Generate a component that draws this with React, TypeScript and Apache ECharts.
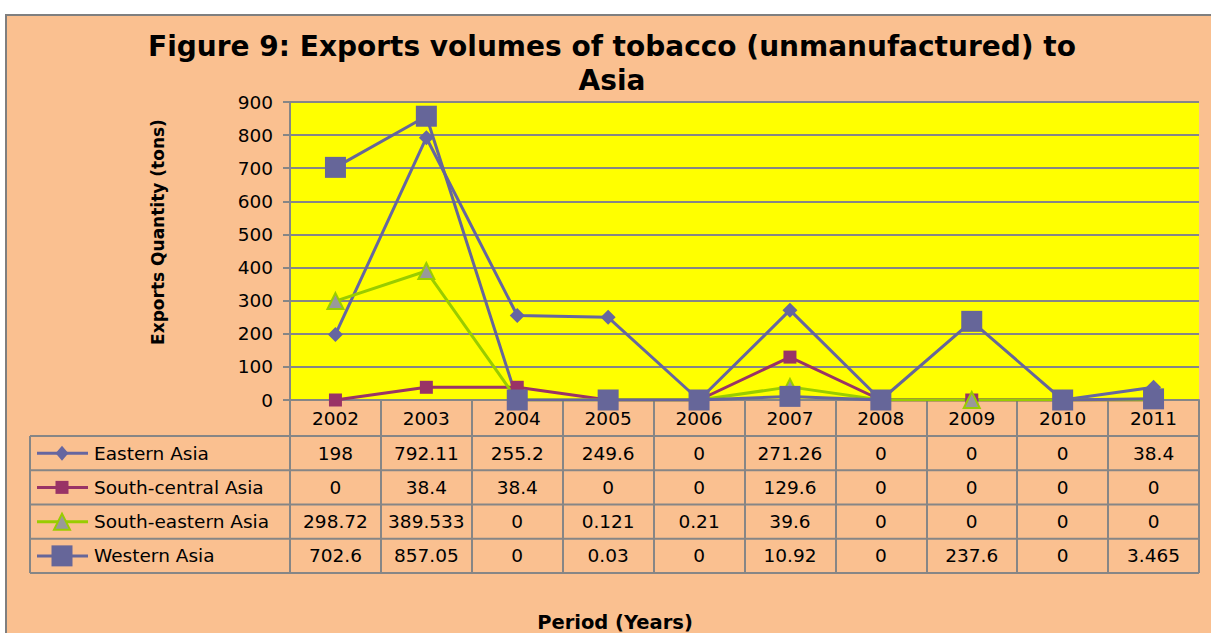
import React, { useEffect, useRef } from "react";
import * as echarts from "echarts";

const years = ["2002", "2003", "2004", "2005", "2006", "2007", "2008", "2009", "2010", "2011"];
const seriesNames = ["Eastern Asia", "South-central Asia", "South-eastern Asia", "Western Asia"];
const easternAsia = [198, 792.11, 255.2, 249.6, 0, 271.26, 0, 0, 0, 38.4];
const southCentralAsia = [0, 38.4, 38.4, 0, 0, 129.6, 0, 0, 0, 0];
const southEasternAsia = [298.72, 389.533, 0, 0.121, 0.21, 39.6, 0, 0, 0, 0];
const westernAsia = [702.6, 857.05, 0, 0.03, 0, 10.92, 0, 237.6, 0, 3.465];
const tableLabels = [
  ["198", "792.11", "255.2", "249.6", "0", "271.26", "0", "0", "0", "38.4"],
  ["0", "38.4", "38.4", "0", "0", "129.6", "0", "0", "0", "0"],
  ["298.72", "389.533", "0", "0.121", "0.21", "39.6", "0", "0", "0", "0"],
  ["702.6", "857.05", "0", "0.03", "0", "10.92", "0", "237.6", "0", "3.465"],
];

const PEACH = "#FAC090";
const GRID = "#868686";
const FONT = "DejaVu Sans";
const FS = 18.5;

const styles = [
  { color: "#6666A0", symbol: "diamond", size: 15, fill: "#6666A0", border: "#6666A0" },
  { color: "#993366", symbol: "rect", size: 13, fill: "#993366", border: "#993366" },
  { color: "#99CC00", symbol: "triangle", size: 16, fill: "#999999", border: "#99CC00" },
  { color: "#666699", symbol: "rect", size: 21, fill: "#666699", border: "#666699" },
];

export default function App() {
  const ref = useRef<HTMLDivElement>(null);
  useEffect(() => {
    document.body.style.margin = "0";
    const chart = echarts.init(ref.current!, null, { renderer: "svg" });
    const values = [easternAsia, southCentralAsia, southEasternAsia, westernAsia];
    const gridLeft = 290;
    const gridRight = 1199;
    const gridTop = 102;
    const gridBottom = 400;
    chart.setOption({
      animation: false,
      backgroundColor: "#ffffff",
      grid: { left: gridLeft, top: gridTop, width: gridRight - gridLeft, height: gridBottom - gridTop, show: true, backgroundColor: "#FFFF00", borderWidth: 0 },
      xAxis: {
        type: "category",
        data: years,
        boundaryGap: true,
        axisLine: { show: true, lineStyle: { color: GRID, width: 2 } },
        axisTick: { show: true, length: 173, interval: 0, lineStyle: { color: GRID, width: 2 } },
        axisLabel: { fontFamily: FONT, fontSize: FS, color: "#000", margin: 9, interval: 0 },
      },
      yAxis: {
        type: "value",
        min: 0,
        max: 900,
        interval: 100,
        axisLine: { show: true, lineStyle: { color: GRID, width: 2 } },
        axisTick: { show: true, length: 7, lineStyle: { color: GRID, width: 2 } },
        splitLine: { show: true, lineStyle: { color: GRID, width: 2 } },
        axisLabel: { fontFamily: FONT, fontSize: FS, color: "#000", margin: 17 },
      },
      series: seriesNames.map((name, i) => ({
        type: "line",
        name,
        data: values[i],
        symbol: styles[i].symbol,
        symbolSize: styles[i].size,
        showAllSymbol: true,
        lineStyle: { color: styles[i].color, width: 3 },
        itemStyle: { color: styles[i].fill, borderColor: styles[i].border, borderWidth: i === 2 ? 2 : 0 },
      })),
    });

    const colX = years.map((y) => chart.convertToPixel({ xAxisIndex: 0 }, y) as number);
    const cw = colX.length > 1 ? colX[1] - colX[0] : 90;
    const tableLeft = 30;
    const rowTop = 436;
    const rowH = 34.25;
    const g: any[] = [];
    g.push({
      type: "rect",
      z: -10,
      silent: true,
      shape: { x: 6, y: 15, width: 1240, height: 660 },
      style: { fill: PEACH, stroke: "#7F7F7F", lineWidth: 2 },
    });
    g.push({
      type: "text",
      x: 612,
      y: 46,
      style: { text: "Figure 9: Exports volumes of tobacco (unmanufactured) to", font: "bold 28px 'DejaVu Sans'", fill: "#000", textAlign: "center", textVerticalAlign: "middle" },
    });
    g.push({
      type: "text",
      x: 612,
      y: 80,
      style: { text: "Asia", font: "bold 28px 'DejaVu Sans'", fill: "#000", textAlign: "center", textVerticalAlign: "middle" },
    });
    g.push({
      type: "text",
      x: 158,
      y: 232,
      rotation: Math.PI / 2,
      style: { text: "Exports Quantity (tons)", font: "bold 17px 'DejaVu Sans'", fill: "#000", textAlign: "center", textVerticalAlign: "middle" },
    });
    g.push({
      type: "text",
      x: 615,
      y: 622,
      style: { text: "Period (Years)", font: "bold 19.5px 'DejaVu Sans'", fill: "#000", textAlign: "center", textVerticalAlign: "middle" },
    });
    for (let r = 0; r <= 4; r++) {
      g.push({
        type: "line",
        shape: { x1: tableLeft, y1: rowTop + r * rowH, x2: colX[colX.length - 1] + cw / 2, y2: rowTop + r * rowH },
        style: { stroke: GRID, lineWidth: 2 },
      });
    }
    g.push({
      type: "line",
      shape: { x1: tableLeft, y1: rowTop, x2: tableLeft, y2: rowTop + 4 * rowH },
      style: { stroke: GRID, lineWidth: 2 },
    });
    seriesNames.forEach((name, r) => {
      const cy = rowTop + (r + 0.5) * rowH;
      const s = styles[r];
      g.push({ type: "line", shape: { x1: 37, y1: cy, x2: 88, y2: cy }, style: { stroke: s.color, lineWidth: 3 } });
      const half = s.size / 2;
      if (s.symbol === "diamond") {
        g.push({ type: "polygon", shape: { points: [[62, cy - half], [62 + half * 0.85, cy], [62, cy + half], [62 - half * 0.85, cy]] }, style: { fill: s.fill } });
      } else if (s.symbol === "triangle") {
        g.push({ type: "polygon", shape: { points: [[62, cy - half], [62 + half, cy + half], [62 - half, cy + half]] }, style: { fill: s.fill, stroke: s.border, lineWidth: 2 } });
      } else {
        g.push({ type: "rect", shape: { x: 62 - half, y: cy - half, width: s.size, height: s.size }, style: { fill: s.fill } });
      }
      g.push({
        type: "text",
        x: 94,
        y: cy,
        style: { text: name, font: `${FS}px '${FONT}'`, fill: "#000", textAlign: "left", textVerticalAlign: "middle" },
      });
      tableLabels[r].forEach((t, c) => {
        g.push({
          type: "text",
          x: colX[c],
          y: cy,
          style: { text: t, font: `${FS}px '${FONT}'`, fill: "#000", textAlign: "center", textVerticalAlign: "middle" },
        });
      });
    });
    chart.setOption({ graphic: g });
    return () => chart.dispose();
  }, []);
  return <div ref={ref} style={{ width: 1211, height: 633 }} />;
}
